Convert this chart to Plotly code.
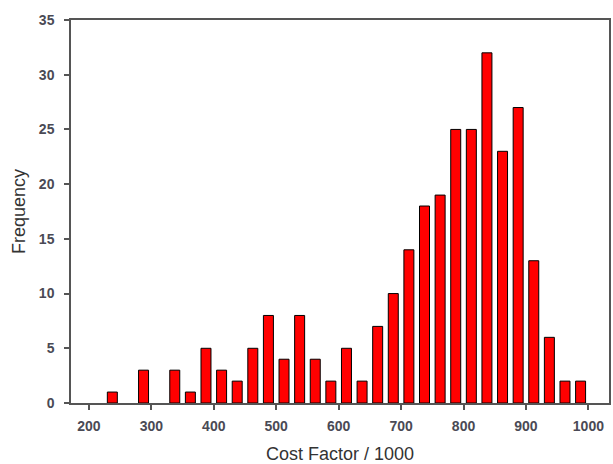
import plotly.graph_objects as go

# Bin centers (Cost Factor / 1000) and frequencies
bin_centers = [237.5, 262.5, 287.5, 312.5, 337.5, 362.5, 387.5, 412.5, 437.5, 462.5,
               487.5, 512.5, 537.5, 562.5, 587.5, 612.5, 637.5, 662.5, 687.5, 712.5,
               737.5, 762.5, 787.5, 812.5, 837.5, 862.5, 887.5, 912.5, 937.5, 962.5, 987.5]
frequency = [1, 0, 3, 0, 3, 1, 5, 3, 2, 5,
             8, 4, 8, 4, 2, 5, 2, 7, 10, 14,
             18, 19, 25, 25, 32, 23, 27, 13, 6, 2, 2]

x_ticks = [200, 300, 400, 500, 600, 700, 800, 900, 1000]
y_ticks = [0, 5, 10, 15, 20, 25, 30, 35]

# empty bins are not drawn
heights = [f if f > 0 else None for f in frequency]

fig = go.Figure(go.Bar(
    x=bin_centers, y=heights,
    marker=dict(color="#FF0000", line=dict(color="#000000", width=1)),
))

axis_font = dict(family="Liberation Sans, Arial, sans-serif", size=14, color="#4a4a55",
                 weight="bold")
title_font = dict(family="Liberation Sans, Arial, sans-serif", size=18, color="#333333")

fig.update_layout(
    width=613, height=464,
    margin=dict(l=71, r=2, t=20, b=61),
    paper_bgcolor="white", plot_bgcolor="white",
    bargap=0.36,
    showlegend=False,
    xaxis=dict(
        range=[171.3, 1033], tickvals=x_ticks, ticks="outside", ticklen=5,
        tickwidth=1.5, tickcolor="#555555", ticklabelstandoff=4,
        showline=True, linecolor="#555555", linewidth=1.5, mirror=True,
        showgrid=False, zeroline=False, tickfont=axis_font,
        title=dict(text="Cost Factor / 1000", font=title_font, standoff=15),
    ),
    yaxis=dict(
        range=[0, 35], tickvals=y_ticks, ticks="outside", ticklen=5,
        tickwidth=1.5, tickcolor="#555555", ticklabelstandoff=7,
        showline=True, linecolor="#555555", linewidth=1.5, mirror=True,
        showgrid=False, zeroline=False, tickfont=axis_font,
        title=dict(text="Frequency", font=title_font, standoff=9),
    ),
)

fig.write_html("out.html")
